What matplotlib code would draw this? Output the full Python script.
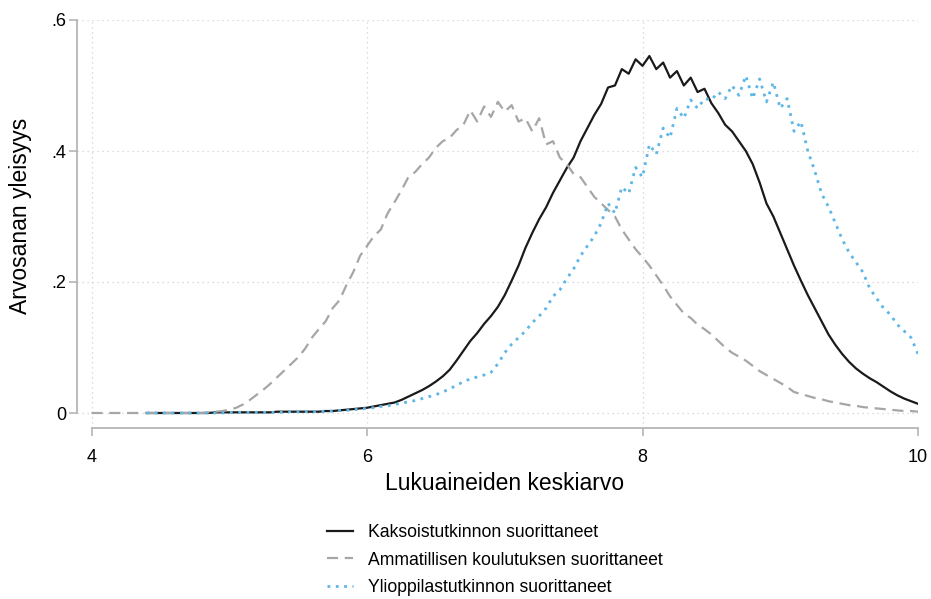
import numpy as np
import matplotlib.pyplot as plt

plt.rcParams['font.family'] = ['Liberation Sans', 'DejaVu Sans']

# grade average grid (step 0.05)
x_all = np.round(np.arange(4.0, 10.0001, 0.05), 2)

kaksois = [
    np.nan, np.nan, np.nan, np.nan, np.nan, np.nan, np.nan, np.nan,          # 4.00-4.35
    0.000, 0.000, 0.000, 0.000, 0.000, 0.000, 0.000, 0.000, 0.000, 0.000,    # 4.40-4.85
    0.001, 0.001, 0.001, 0.001, 0.001, 0.001, 0.001, 0.001, 0.001, 0.002,    # 4.90-5.35
    0.002, 0.002, 0.002, 0.002, 0.002, 0.002, 0.003, 0.003, 0.004, 0.005,    # 5.40-5.85
    0.006, 0.007, 0.008, 0.010, 0.012, 0.014, 0.016, 0.020, 0.025, 0.030,    # 5.90-6.35
    0.035, 0.041, 0.048, 0.056, 0.066, 0.080, 0.095, 0.110, 0.122, 0.136,    # 6.40-6.85
    0.148, 0.162, 0.180, 0.202, 0.225, 0.252, 0.275, 0.296, 0.314, 0.336,    # 6.90-7.35
    0.355, 0.374, 0.390, 0.415, 0.435, 0.455, 0.472, 0.497, 0.500, 0.525,    # 7.40-7.85
    0.518, 0.540, 0.530, 0.545, 0.525, 0.535, 0.512, 0.522, 0.500, 0.512,    # 7.90-8.35
    0.490, 0.495, 0.473, 0.458, 0.440, 0.430, 0.415, 0.400, 0.380, 0.352,    # 8.40-8.85
    0.320, 0.300, 0.275, 0.250, 0.225, 0.202, 0.180, 0.160, 0.140, 0.120,    # 8.90-9.35
    0.104, 0.090, 0.078, 0.068, 0.060, 0.053, 0.047, 0.040, 0.033, 0.027,    # 9.40-9.85
    0.022, 0.018, 0.014,                                                     # 9.90-10.00
]

ammatillinen = [
    0.000, 0.000, 0.000, 0.000, 0.000, 0.000, 0.000, 0.000, 0.000, 0.000,    # 4.00-4.45
    0.000, 0.000, 0.000, 0.000, 0.000, 0.000, 0.000, 0.001, 0.002, 0.003,    # 4.50-4.95
    0.005, 0.008, 0.013, 0.020, 0.028, 0.036, 0.045, 0.055, 0.065, 0.075,    # 5.00-5.45
    0.085, 0.098, 0.115, 0.128, 0.140, 0.160, 0.172, 0.195, 0.215, 0.240,    # 5.50-5.95
    0.255, 0.270, 0.280, 0.305, 0.322, 0.340, 0.360, 0.368, 0.380, 0.390,    # 6.00-6.45
    0.405, 0.415, 0.420, 0.432, 0.440, 0.462, 0.445, 0.468, 0.452, 0.475,    # 6.50-6.95
    0.460, 0.470, 0.445, 0.450, 0.430, 0.450, 0.410, 0.415, 0.390, 0.380,    # 7.00-7.45
    0.365, 0.360, 0.345, 0.330, 0.320, 0.310, 0.300, 0.280, 0.265, 0.250,    # 7.50-7.95
    0.238, 0.225, 0.210, 0.195, 0.178, 0.165, 0.152, 0.145, 0.135, 0.128,    # 8.00-8.45
    0.120, 0.110, 0.100, 0.092, 0.086, 0.080, 0.072, 0.064, 0.058, 0.052,    # 8.50-8.95
    0.046, 0.040, 0.032, 0.029, 0.026, 0.023, 0.021, 0.018, 0.016, 0.014,    # 9.00-9.45
    0.012, 0.011, 0.009, 0.008, 0.007, 0.006, 0.005, 0.004, 0.003, 0.003,    # 9.50-9.95
    0.002,                                                                   # 10.00
]

ylioppilas = [
    np.nan, np.nan, np.nan, np.nan, np.nan, np.nan, np.nan, np.nan,          # 4.00-4.35
    0.000, 0.000, 0.000, 0.000, 0.000, 0.000, 0.000, 0.000, 0.000, 0.000,    # 4.40-4.85
    0.000, 0.000, 0.001, 0.001, 0.001, 0.001, 0.001, 0.001, 0.001, 0.001,    # 4.90-5.35
    0.001, 0.002, 0.002, 0.002, 0.002, 0.002, 0.003, 0.003, 0.004, 0.004,    # 5.40-5.85
    0.005, 0.006, 0.007, 0.008, 0.010, 0.011, 0.013, 0.015, 0.017, 0.019,    # 5.90-6.35
    0.022, 0.025, 0.028, 0.032, 0.037, 0.042, 0.048, 0.052, 0.055, 0.058,    # 6.40-6.85
    0.062, 0.075, 0.092, 0.105, 0.115, 0.125, 0.138, 0.148, 0.160, 0.178,    # 6.90-7.35
    0.188, 0.205, 0.220, 0.240, 0.255, 0.270, 0.290, 0.320, 0.305, 0.345,    # 7.40-7.85
    0.335, 0.375, 0.360, 0.410, 0.395, 0.435, 0.420, 0.465, 0.450, 0.478,    # 7.90-8.35
    0.465, 0.480, 0.478, 0.490, 0.480, 0.500, 0.485, 0.515, 0.480, 0.510,    # 8.40-8.85
    0.475, 0.505, 0.465, 0.480, 0.430, 0.445, 0.400, 0.370, 0.335, 0.315,    # 8.90-9.35
    0.290, 0.265, 0.245, 0.230, 0.215, 0.190, 0.175, 0.160, 0.150, 0.135,    # 9.40-9.85
    0.125, 0.115, 0.090,                                                     # 9.90-10.00
]

labels = ['Kaksoistutkinnon suorittaneet',
          'Ammatillisen koulutuksen suorittaneet',
          'Ylioppilastutkinnon suorittaneet']
xticks = [4, 6, 8, 10]
yticks = [0, 0.2, 0.4, 0.6]
yticklabels = ['0', '.2', '.4', '.6']

W, H = 931, 599
fig = plt.figure(figsize=(W / 100, H / 100), dpi=100)

# axes box in pixels: left 77, right 918, top 20, bottom 428
ax = fig.add_axes([77 / W, 1 - 428 / H, (918 - 77) / W, (428 - 20) / H])
px_per_x = (918 - 91.5) / 6
ax.set_xlim(4 - (91.5 - 77) / px_per_x, 10)
ax.set_ylim(-(428 - 413) / 655, 0.6)

ax.plot(x_all, kaksois, color='#1a1a1a', lw=1.6, label=labels[0])
ax.plot(x_all, ammatillinen, color='#a6a6a6', lw=1.6,
        dashes=(5, 3), label=labels[1])
ax.plot(x_all, ylioppilas, color='#5cb6e6', lw=2.0,
        linestyle=(0, (1, 2)), label=labels[2])

for s in ['top', 'right']:
    ax.spines[s].set_visible(False)
for s in ['left', 'bottom']:
    ax.spines[s].set_color('#b5b5b5')
    ax.spines[s].set_linewidth(1.3)
ax.spines['left'].set_bounds(0, 0.6)
ax.spines['bottom'].set_bounds(4, 10)

ax.set_xticks(xticks)
ax.set_yticks(yticks)
ax.set_yticklabels(yticklabels)
ax.tick_params(colors='#b5b5b5', labelcolor='black', labelsize=13,
               length=6, width=1.2, direction='out')
ax.tick_params(axis='x', pad=9)
ax.tick_params(axis='y', pad=2)

ax.grid(True, color='#d0d0d0', linestyle=(0, (1, 3)), linewidth=0.9)
ax.set_axisbelow(True)

ax.set_xlabel('Lukuaineiden keskiarvo', fontsize=16.5)
ax.set_ylabel('Arvosanan yleisyys', fontsize=16.5)
ax.xaxis.set_label_coords((505 - 77) / 841, -(472 - 428) / 408)
ax.yaxis.set_label_coords(-(77 - 32) / 841, (428 - 216) / 408)

fig.legend(loc='upper left', bbox_to_anchor=(327 / W, 1 - 524 / H),
           frameon=False, fontsize=12.7, handlelength=1.45,
           labelspacing=0.6, handletextpad=0.9, borderpad=0,
           borderaxespad=0)

fig.savefig('out.png', dpi=100, facecolor='white')
